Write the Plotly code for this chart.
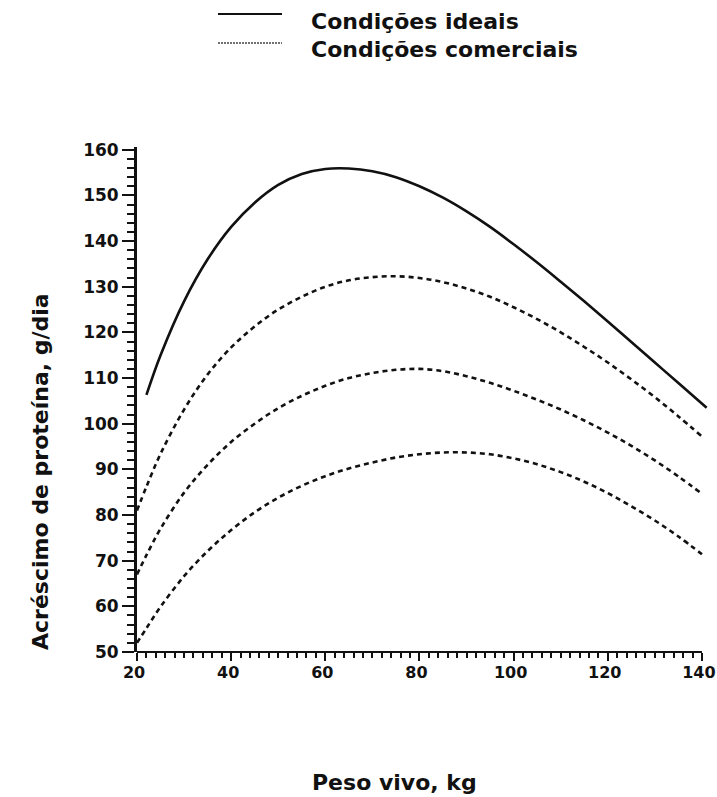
import plotly.graph_objects as go

# Peso vivo (kg) and protein deposition (g/dia)
peso_ideal = [22, 25, 30, 35, 40, 45, 50, 55, 60, 65, 70, 75, 80, 85, 90,
              95, 100, 105, 110, 115, 120, 125, 130, 135, 141]
proteina_ideal = [106.3, 115.0, 126.8, 136.0, 143.1, 148.4, 152.3, 154.7, 155.8,
                  155.9, 155.3, 154.0, 152.0, 149.5, 146.5, 143.1, 139.3, 135.3,
                  131.1, 126.8, 122.4, 117.9, 113.4, 108.9, 103.5]

peso_comercial = [20, 22, 25, 30, 35, 40, 45, 50, 55, 60, 65, 70, 75, 80, 85,
                  90, 95, 100, 105, 110, 115, 120, 125, 130, 135, 140]
proteina_comercial_alta = [81.0, 86.2, 93.4, 103.1, 110.8, 116.7, 121.3, 125.0,
                           127.8, 130.0, 131.4, 132.1, 132.3, 131.9, 131.0, 129.6,
                           127.8, 125.5, 122.9, 120.0, 116.8, 113.4, 109.7, 105.8,
                           101.6, 97.2]
proteina_comercial_media = [67.0, 71.2, 77.0, 84.9, 91.0, 96.0, 100.0, 103.4,
                            106.1, 108.3, 110.0, 111.1, 111.8, 112.0, 111.5, 110.4,
                            108.95, 107.2, 105.25, 103.1, 100.7, 98.05, 95.15, 91.95,
                            88.45, 84.65]
proteina_comercial_baixa = [52.0, 55.2, 59.9, 66.6, 72.1, 76.7, 80.6, 83.8, 86.4,
                            88.5, 90.2, 91.5, 92.6, 93.3, 93.7, 93.7, 93.3, 92.4,
                            91.1, 89.4, 87.3, 84.8, 81.9, 78.8, 75.3, 71.4]

x_ticks = [20, 40, 60, 80, 100, 120, 140]
y_ticks = [50, 60, 70, 80, 90, 100, 110, 120, 130, 140, 150, 160]

legenda_ideal = "Condições ideais"
legenda_comercial = "Condições comerciais"
titulo_x = "Peso vivo, kg"
titulo_y = "Acréscimo de proteína, g/dia"

W, H = 717, 797
ML, MR, MT, MB = 137, 8, 147, 145
X_RANGE = [20, 141.5]
Y_RANGE = [50, 160.6]
PW = W - ML - MR
PH = H - MT - MB


def px_x(px):
    return (px - ML) / PW


def px_y(py):
    return (H - MB - py) / PH


FONT = "DejaVu Sans"
BLACK = "#111111"

fig = go.Figure()

fig.add_trace(go.Scatter(
    x=peso_ideal, y=proteina_ideal, mode="lines",
    line=dict(color=BLACK, width=2.6, shape="spline", smoothing=1.0),
    name=legenda_ideal, showlegend=False,
))
for serie in (proteina_comercial_alta, proteina_comercial_media, proteina_comercial_baixa):
    fig.add_trace(go.Scatter(
        x=peso_comercial, y=serie, mode="lines",
        line=dict(color=BLACK, width=2.6, dash="5px,4px", shape="spline", smoothing=1.0),
        name=legenda_comercial, showlegend=False,
    ))

# x axis baseline drawn from 20 to 140 only
x_end = (140 - X_RANGE[0]) / (X_RANGE[1] - X_RANGE[0])
fig.add_shape(type="line", xref="paper", yref="paper", x0=0, x1=x_end, y0=0, y1=0,
              line=dict(color=BLACK, width=2.2), layer="above")

# legend samples
fig.add_shape(type="line", xref="paper", yref="paper",
              x0=px_x(218), x1=px_x(282), y0=px_y(14), y1=px_y(14),
              line=dict(color=BLACK, width=2.2))
fig.add_shape(type="line", xref="paper", yref="paper",
              x0=px_x(218), x1=px_x(282), y0=px_y(43), y1=px_y(43),
              line=dict(color="#444444", width=1.4, dash="2px,1px"))

fig.add_annotation(text=legenda_ideal, xref="paper", yref="paper",
                   x=px_x(309), y=px_y(21), xanchor="left", yanchor="middle",
                   showarrow=False, font=dict(family=FONT, size=22, color=BLACK, weight="bold"))
fig.add_annotation(text=legenda_comercial, xref="paper", yref="paper",
                   x=px_x(309), y=px_y(49), xanchor="left", yanchor="middle",
                   showarrow=False, font=dict(family=FONT, size=22, color=BLACK, weight="bold"))

fig.add_annotation(text=titulo_x, xref="paper", yref="paper",
                   x=px_x(394), y=px_y(782), xanchor="center", yanchor="middle",
                   showarrow=False, font=dict(family=FONT, size=22, color=BLACK, weight="bold"))
fig.add_annotation(text=titulo_y, xref="paper", yref="paper",
                   x=px_x(40), y=px_y(472), xanchor="center", yanchor="middle",
                   textangle=-90, showarrow=False,
                   font=dict(family=FONT, size=22, color=BLACK, weight="bold"))

fig.update_layout(
    width=W, height=H,
    margin=dict(l=ML, r=MR, t=MT, b=MB, pad=0, autoexpand=False),
    paper_bgcolor="white", plot_bgcolor="white",
    showlegend=False,
    xaxis=dict(
        range=X_RANGE, tickvals=x_ticks, ticktext=[str(v) for v in x_ticks],
        automargin=False,
        showgrid=False, zeroline=False, showline=False,
        ticks="outside", ticklen=8, tickwidth=2, tickcolor=BLACK,
        minor=dict(dtick=2, tick0=20, ticks="outside", ticklen=5, tickwidth=1.6,
                   tickcolor=BLACK, showgrid=False),
        tickfont=dict(family=FONT, size=16, color=BLACK, weight="bold"),
        ticklabelstandoff=-2, ticklabelshift=-3, ticklabeloverflow="allow",
    ),
    yaxis=dict(
        range=Y_RANGE, tickvals=y_ticks, ticktext=[str(v) for v in y_ticks],
        automargin=False,
        showgrid=False, zeroline=False, showline=True, linecolor=BLACK, linewidth=2.8,
        ticks="outside", ticklen=12, tickwidth=2, tickcolor=BLACK,
        minor=dict(dtick=2, tick0=50, ticks="outside", ticklen=7, tickwidth=1.6,
                   tickcolor=BLACK, showgrid=False),
        tickfont=dict(family=FONT, size=17, color=BLACK, weight="bold"),
        ticklabelstandoff=0,
    ),
)

fig.write_html("out.html")
